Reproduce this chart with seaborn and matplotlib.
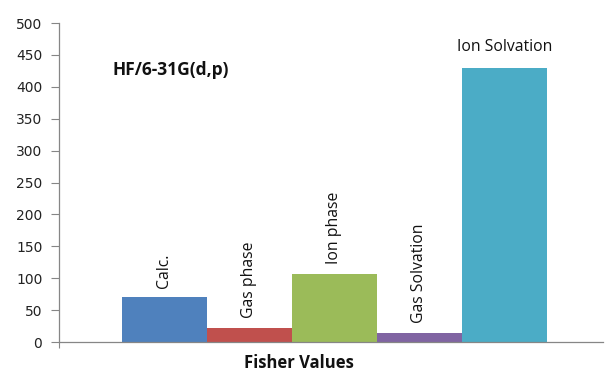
import matplotlib
matplotlib.use("Agg")
import matplotlib.pyplot as plt
import seaborn as sns

# Fisher values for each model variant
categories = ["Calc.", "Gas phase", "Ion phase", "Gas Solvation", "Ion Solvation"]
values = [70, 22, 107, 14, 430]
colors = ["#4F81BD", "#C0504D", "#9BBB59", "#8064A2", "#4BACC6"]
y_ticks = [0, 50, 100, 150, 200, 250, 300, 350, 400, 450, 500]

sns.set_style("white")
plt.rcParams["font.family"] = ["Open Sans", "DejaVu Sans"]

fig = plt.figure(figsize=(6.05, 3.71), dpi=100)
ax = fig.add_axes([0.0975, 0.078, 0.899, 0.86])

sns.barplot(x=categories, y=values, hue=categories, palette=colors,
            width=1.0, legend=False, ax=ax, saturation=1, linewidth=0)

ax.set_ylim(0, 500)
left, right = -1.24, 5.16
ax.set_xlim(left, right)
ax.set_yticks(y_ticks)
ax.set_yticklabels([str(t) for t in y_ticks], fontfamily="DejaVu Sans",
                   fontsize=10, color="#222222")
ax.set_xticks([left])
ax.set_xticklabels([""])
ax.tick_params(axis="y", direction="out", length=6, width=0.8,
               color="#868686", left=True, pad=6)
ax.tick_params(axis="x", direction="out", length=4, width=0.8,
               color="#868686", bottom=True)

for side in ("top", "right"):
    ax.spines[side].set_visible(False)
for side in ("left", "bottom"):
    ax.spines[side].set_color("#868686")
    ax.spines[side].set_linewidth(0.9)

# category names written above each bar
for i, (name, v) in enumerate(zip(categories, values)):
    if i == len(categories) - 1:
        ax.annotate(name, (i, v), xytext=(0, 9), textcoords="offset points",
                    ha="center", va="bottom", fontsize=11.3, color="#111111")
    else:
        ax.annotate(name, (i, v), xytext=(0, 7), textcoords="offset points",
                    ha="center", va="bottom", rotation=90, fontsize=11.3,
                    color="#111111")

ax.text(0.099, 0.837, "HF/6-31G(d,p)", transform=ax.transAxes,
        fontsize=12.5, fontweight="bold", color="#111111", va="baseline")

ax.set_xlabel("")
ax.set_ylabel("")
fig.text(0.4934, 0.022, "Fisher Values", ha="center", va="center",
         fontsize=12, fontweight="bold", color="#111111")

fig.savefig("out.png", dpi=100)
